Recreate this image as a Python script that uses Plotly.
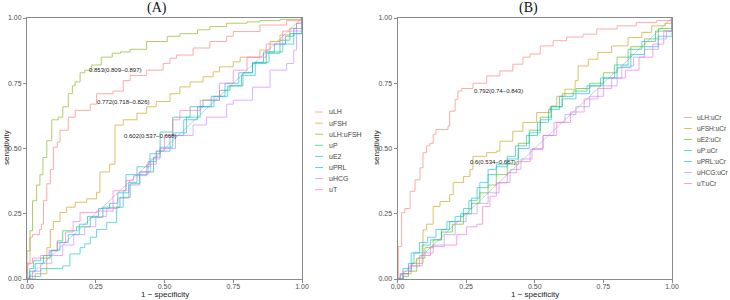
import plotly.graph_objects as go

# ---------------- Panel A data (1 - specificity, sensitivity) ----------------
A_labels = ["uLH", "uFSH", "uLH:uFSH", "uP", "uE2", "uPRL", "uHCG", "uT"]
A_colors = ["#F8766D", "#CD9600", "#7CAE00", "#00BE67", "#00BFC4", "#00A9FF", "#C77CFF", "#FF61CC"]

A_uLH_fpr = [0, 0.003, 0.011, 0.02, 0.045, 0.053, 0.06, 0.072, 0.085, 0.096, 0.11, 0.12, 0.15, 0.175, 0.23,
             0.253, 0.313, 0.35, 0.375, 0.435, 0.495, 0.52, 0.544, 0.604, 0.665, 0.726, 0.75, 0.847, 0.944, 1]
A_uLH_tpr = [0, 0.057, 0.16, 0.17, 0.19, 0.21, 0.30, 0.365, 0.42, 0.505, 0.525, 0.57, 0.62, 0.646, 0.67,
             0.71, 0.72, 0.76, 0.78, 0.80, 0.826, 0.846, 0.858, 0.885, 0.91, 0.93, 0.948, 0.973, 0.99, 1]

A_uFSH_fpr = [0, 0.03, 0.072, 0.085, 0.096, 0.12, 0.144, 0.175, 0.217, 0.253, 0.265, 0.30, 0.32, 0.35, 0.40,
              0.435, 0.47, 0.52, 0.556, 0.593, 0.64, 0.677, 0.70, 0.75, 0.775, 0.847, 0.884, 0.92, 0.956, 0.98, 1]
A_uFSH_tpr = [0, 0.02, 0.12, 0.19, 0.22, 0.255, 0.275, 0.294, 0.307, 0.332, 0.41, 0.44, 0.59, 0.61, 0.635,
              0.66, 0.68, 0.71, 0.736, 0.755, 0.775, 0.794, 0.813, 0.832, 0.85, 0.877, 0.91, 0.935, 0.96, 0.98, 1]

A_uLHuFSH_fpr = [0, 0, 0.011, 0.02, 0.035, 0.047, 0.058, 0.072, 0.09, 0.114, 0.13, 0.15, 0.165, 0.175, 0.193,
                 0.21, 0.235, 0.27, 0.31, 0.34, 0.375, 0.435, 0.51, 0.556, 0.62, 0.665, 0.726, 0.8, 0.847, 0.92, 1]
A_uLHuFSH_tpr = [0, 0.108, 0.185, 0.30, 0.36, 0.40, 0.465, 0.53, 0.61, 0.62, 0.66, 0.71, 0.74, 0.755, 0.79,
                 0.80, 0.82, 0.85, 0.865, 0.87, 0.88, 0.91, 0.93, 0.94, 0.955, 0.967, 0.98, 0.985, 0.99, 0.995, 1]

A_uP_fpr = [0, 0.01, 0.024, 0.05, 0.084, 0.11, 0.13, 0.18, 0.23, 0.276, 0.338, 0.375, 0.41, 0.46, 0.484,
            0.53, 0.593, 0.64, 0.70, 0.738, 0.785, 0.82, 0.87, 0.92, 0.956, 1]
A_uP_tpr = [0, 0.04, 0.07, 0.08, 0.108, 0.146, 0.185, 0.20, 0.236, 0.275, 0.313, 0.365, 0.41, 0.467, 0.563,
            0.62, 0.66, 0.685, 0.723, 0.74, 0.79, 0.826, 0.865, 0.915, 0.94, 1]

A_uE2_fpr = [0, 0.01, 0.05, 0.13, 0.156, 0.193, 0.21, 0.23, 0.253, 0.29, 0.326, 0.35, 0.36, 0.40, 0.447,
             0.484, 0.53, 0.58, 0.63, 0.68, 0.73, 0.78, 0.83, 0.88, 0.93, 0.97, 1]
A_uE2_tpr = [0, 0.01, 0.04, 0.05, 0.096, 0.12, 0.135, 0.16, 0.19, 0.217, 0.275, 0.338, 0.40, 0.43, 0.48,
             0.505, 0.56, 0.62, 0.66, 0.70, 0.74, 0.78, 0.83, 0.87, 0.90, 0.94, 1]

A_uPRL_fpr = [0, 0.01, 0.03, 0.06, 0.09, 0.12, 0.15, 0.19, 0.22, 0.26, 0.30, 0.33, 0.37, 0.40, 0.44, 0.47,
              0.52, 0.57, 0.62, 0.67, 0.72, 0.77, 0.82, 0.86, 0.90, 0.94, 0.97, 1]
A_uPRL_tpr = [0, 0.03, 0.06, 0.09, 0.11, 0.14, 0.17, 0.21, 0.24, 0.27, 0.29, 0.33, 0.37, 0.40, 0.45, 0.49,
              0.55, 0.61, 0.66, 0.70, 0.75, 0.79, 0.83, 0.87, 0.90, 0.93, 0.96, 1]

A_uHCG_fpr = [0, 0.02, 0.05, 0.09, 0.13, 0.17, 0.21, 0.25, 0.29, 0.33, 0.37, 0.41, 0.45, 0.484, 0.54,
              0.604, 0.653, 0.726, 0.75, 0.82, 0.884, 0.944, 0.97, 0.98, 1]
A_uHCG_tpr = [0, 0.03, 0.06, 0.09, 0.13, 0.17, 0.20, 0.24, 0.27, 0.31, 0.36, 0.41, 0.46, 0.50, 0.55,
              0.59, 0.62, 0.67, 0.685, 0.735, 0.80, 0.826, 0.877, 0.98, 1]

A_uT_fpr = [0, 0, 0.02, 0.05, 0.08, 0.11, 0.14, 0.168, 0.193, 0.253, 0.313, 0.36, 0.387, 0.435, 0.47, 0.50,
            0.53, 0.556, 0.63, 0.70, 0.75, 0.80, 0.87, 0.93, 1]
A_uT_tpr = [0, 0.06, 0.08, 0.09, 0.11, 0.14, 0.18, 0.22, 0.255, 0.26, 0.338, 0.377, 0.396, 0.44, 0.49, 0.55,
            0.61, 0.646, 0.685, 0.75, 0.80, 0.85, 0.90, 0.95, 1]

# ---------------- Panel B data ----------------
B_labels = ["uLH:uCr", "uFSH:uCr", "uE2:uCr", "uP:uCr", "uPRL:uCr", "uHCG:uCr", "uT:uCr"]
B_colors = ["#F8766D", "#C49A00", "#53B400", "#00C094", "#00B6EB", "#A58AFF", "#FB61D7"]

B_uLH_fpr = [0, 0.003, 0.015, 0.027, 0.046, 0.064, 0.082, 0.093, 0.106, 0.118, 0.13, 0.14, 0.184, 0.19, 0.21,
             0.22, 0.234, 0.275, 0.325, 0.373, 0.42, 0.457, 0.483, 0.52, 0.567, 0.616, 0.676, 0.726, 0.80,
             0.87, 0.944, 1]
B_uLH_tpr = [0, 0.124, 0.254, 0.27, 0.336, 0.38, 0.426, 0.484, 0.51, 0.52, 0.554, 0.573, 0.586, 0.643, 0.688,
             0.72, 0.73, 0.75, 0.778, 0.797, 0.823, 0.85, 0.862, 0.893, 0.913, 0.927, 0.938, 0.958, 0.97,
             0.983, 0.99, 1]

B_uFSH_fpr = [0, 0.02, 0.05, 0.093, 0.106, 0.13, 0.155, 0.19, 0.203, 0.24, 0.264, 0.275, 0.325, 0.36, 0.373,
              0.42, 0.457, 0.507, 0.556, 0.58, 0.61, 0.647, 0.658, 0.695, 0.73, 0.78, 0.84, 0.89, 0.926, 0.975, 1]
B_uFSH_tpr = [0, 0.02, 0.06, 0.188, 0.21, 0.278, 0.297, 0.323, 0.37, 0.393, 0.42, 0.47, 0.484, 0.49, 0.528,
              0.566, 0.60, 0.638, 0.663, 0.70, 0.727, 0.76, 0.816, 0.842, 0.868, 0.893, 0.925, 0.945, 0.97, 0.98, 1]

B_uE2_fpr = [0, 0.02, 0.04, 0.07, 0.10, 0.13, 0.16, 0.20, 0.24, 0.27, 0.30, 0.33, 0.36, 0.40, 0.44, 0.48,
             0.52, 0.56, 0.60, 0.65, 0.70, 0.75, 0.80, 0.85, 0.90, 0.95, 1]
B_uE2_tpr = [0, 0.01, 0.03, 0.08, 0.12, 0.15, 0.18, 0.21, 0.25, 0.29, 0.33, 0.36, 0.40, 0.44, 0.52, 0.57,
             0.62, 0.66, 0.71, 0.73, 0.75, 0.79, 0.85, 0.89, 0.92, 0.96, 1]

B_uP_fpr = [0, 0.01, 0.04, 0.06, 0.09, 0.12, 0.16, 0.19, 0.23, 0.26, 0.29, 0.33, 0.36, 0.40, 0.43, 0.47,
            0.51, 0.55, 0.59, 0.64, 0.69, 0.74, 0.79, 0.84, 0.89, 0.94, 1]
B_uP_tpr = [0, 0.02, 0.06, 0.10, 0.13, 0.15, 0.19, 0.22, 0.25, 0.30, 0.35, 0.40, 0.43, 0.47, 0.51, 0.55,
            0.60, 0.65, 0.70, 0.72, 0.74, 0.77, 0.82, 0.88, 0.91, 0.95, 1]

B_uPRL_fpr = [0, 0.02, 0.05, 0.08, 0.11, 0.14, 0.18, 0.21, 0.24, 0.27, 0.30, 0.33, 0.36, 0.40, 0.44, 0.48,
              0.52, 0.56, 0.60, 0.65, 0.70, 0.75, 0.80, 0.85, 0.90, 0.95, 1]
B_uPRL_tpr = [0, 0.04, 0.10, 0.14, 0.16, 0.19, 0.22, 0.24, 0.27, 0.31, 0.37, 0.42, 0.44, 0.46, 0.50, 0.56,
              0.61, 0.66, 0.69, 0.71, 0.74, 0.77, 0.81, 0.86, 0.89, 0.93, 1]

B_uHCG_fpr = [0, 0.02, 0.05, 0.09, 0.13, 0.17, 0.21, 0.25, 0.29, 0.33, 0.37, 0.41, 0.45, 0.49, 0.53, 0.57,
              0.61, 0.65, 0.70, 0.75, 0.80, 0.817, 0.86, 0.90, 0.95, 0.98, 1]
B_uHCG_tpr = [0, 0.03, 0.05, 0.10, 0.13, 0.17, 0.22, 0.25, 0.29, 0.33, 0.37, 0.42, 0.46, 0.50, 0.55, 0.60,
              0.63, 0.66, 0.70, 0.74, 0.77, 0.816, 0.85, 0.88, 0.92, 0.95, 1]

B_uT_fpr = [0, 0.01, 0.04, 0.08, 0.12, 0.17, 0.216, 0.252, 0.289, 0.31, 0.337, 0.36, 0.40, 0.434, 0.483,
            0.53, 0.58, 0.63, 0.68, 0.73, 0.78, 0.83, 0.88, 0.93, 0.97, 1]
B_uT_tpr = [0, 0.02, 0.05, 0.09, 0.124, 0.13, 0.17, 0.20, 0.21, 0.278, 0.317, 0.368, 0.407, 0.45, 0.496,
            0.55, 0.60, 0.64, 0.69, 0.73, 0.77, 0.80, 0.85, 0.90, 0.95, 1]

A_series = [(A_uLH_fpr, A_uLH_tpr), (A_uFSH_fpr, A_uFSH_tpr), (A_uLHuFSH_fpr, A_uLHuFSH_tpr),
            (A_uP_fpr, A_uP_tpr), (A_uE2_fpr, A_uE2_tpr), (A_uPRL_fpr, A_uPRL_tpr),
            (A_uHCG_fpr, A_uHCG_tpr), (A_uT_fpr, A_uT_tpr)]
B_series = [(B_uLH_fpr, B_uLH_tpr), (B_uFSH_fpr, B_uFSH_tpr), (B_uE2_fpr, B_uE2_tpr),
            (B_uP_fpr, B_uP_tpr), (B_uPRL_fpr, B_uPRL_tpr), (B_uHCG_fpr, B_uHCG_tpr), (B_uT_fpr, B_uT_tpr)]

A_auc_text = ["0.853(0.809\u22120.897)", "0.772(0.718\u22120.826)", "0.602(0.537\u22120.668)"]
A_auc_pos = [(0.32, 0.80), (0.35, 0.678), (0.449, 0.547)]
B_auc_text = ["0.792(0.74\u22120.843)", "0.6(0.534\u22120.667)"]
B_auc_pos = [(0.367, 0.72), (0.349, 0.447)]

ticks = [0, 0.25, 0.5, 0.75, 1.0]

W, H = 730, 300
FONT = "Liberation Sans"
AXC = "#8a8a8a"
ALPHA = 0.6

fig = go.Figure()

fig.add_trace(go.Scatter(x=[0, 1], y=[0, 1], mode="lines", line=dict(color="#cfcfcf", width=1),
                         xaxis="x", yaxis="y", showlegend=False, hoverinfo="skip"))
fig.add_trace(go.Scatter(x=[0, 1], y=[0, 1], mode="lines", line=dict(color="#cfcfcf", width=1),
                         xaxis="x2", yaxis="y2", showlegend=False, hoverinfo="skip"))

for (fx, ty), col, lab in zip(A_series, A_colors, A_labels):
    fig.add_trace(go.Scatter(x=fx, y=ty, mode="lines", line=dict(color=col, width=1, shape="hv"),
                             opacity=ALPHA, name=lab, xaxis="x", yaxis="y", showlegend=False))
for (fx, ty), col, lab in zip(B_series, B_colors, B_labels):
    fig.add_trace(go.Scatter(x=fx, y=ty, mode="lines", line=dict(color=col, width=1, shape="hv"),
                             opacity=ALPHA, name=lab, xaxis="x2", yaxis="y2", showlegend=False))

axis_common = dict(range=[0, 1], tickvals=ticks, tickformat=".2f", showgrid=False, zeroline=False,
                   showline=True, mirror=True, linecolor=AXC, linewidth=1, ticks="outside",
                   ticklen=3, tickcolor=AXC, tickfont=dict(family=FONT, size=7, color="#4d4d4d"),
                   automargin=False)

yd = [1 - 279 / H, 1 - 18 / H]
fig.update_layout(
    width=W, height=H, margin=dict(l=0, r=0, t=0, b=0),
    paper_bgcolor="white", plot_bgcolor="white", showlegend=False,
    xaxis=dict(domain=[27 / W, 302 / W], anchor="y", ticklabelstandoff=-2, **axis_common),
    yaxis=dict(domain=yd, anchor="x", **axis_common),
    xaxis2=dict(domain=[397.5 / W, 672 / W], anchor="y2", ticklabelstandoff=-2, **axis_common),
    yaxis2=dict(domain=yd, anchor="x2", **axis_common),
)

ann = []
shapes = []
# titles
ann.append(dict(text="(A)", x=157 / W, y=1 - 8 / H, xref="paper", yref="paper", showarrow=False,
                font=dict(family="Liberation Serif", size=14, color="#111"), xanchor="center", yanchor="middle"))
ann.append(dict(text="(B)", x=528 / W, y=1 - 8 / H, xref="paper", yref="paper", showarrow=False,
                font=dict(family="Liberation Serif", size=14, color="#111"), xanchor="center", yanchor="middle"))
# axis titles
for cx, sx in [(165, 6), (535, 376)]:
    ann.append(dict(text="1 \u2212 specificity", x=cx / W, y=1 - 294 / H, xref="paper", yref="paper",
                    showarrow=False, font=dict(family=FONT, size=8, color="#222"),
                    xanchor="center", yanchor="middle"))
    ann.append(dict(text="sensitivity", x=sx / W, y=1 - 148 / H, xref="paper", yref="paper",
                    showarrow=False, textangle=-90, font=dict(family=FONT, size=8, color="#222"),
                    xanchor="center", yanchor="middle"))
# AUC labels
for t, (px, py) in zip(A_auc_text, A_auc_pos):
    ann.append(dict(text=t, x=px, y=py, xref="x", yref="y", showarrow=False,
                    font=dict(family=FONT, size=6, color="#222"), xanchor="center", yanchor="middle"))
for t, (px, py) in zip(B_auc_text, B_auc_pos):
    ann.append(dict(text=t, x=px, y=py, xref="x2", yref="y2", showarrow=False,
                    font=dict(family=FONT, size=6, color="#222"), xanchor="center", yanchor="middle"))

# legends (manual)
def legend(labels, colors, key_x0, text_x, y0, dy, fs):
    for i, (lab, col) in enumerate(zip(labels, colors)):
        yy = 1 - (y0 + i * dy) / H
        shapes.append(dict(type="line", xref="paper", yref="paper", x0=key_x0 / W, x1=(key_x0 + 8) / W,
                           y0=yy, y1=yy, line=dict(color=col, width=1), opacity=ALPHA))
        ann.append(dict(text=lab, x=text_x / W, y=yy, xref="paper", yref="paper", showarrow=False,
                        font=dict(family=FONT, size=fs, color="#444"), xanchor="left", yanchor="middle"))

legend(A_labels, A_colors, 315, 327, 112, 11.1, 7)
legend(B_labels, B_colors, 684, 695, 117.5, 11, 6.6)

fig.update_layout(annotations=ann, shapes=shapes)
fig.write_html("out.html", config={"displayModeBar": False},
               post_script="document.body.style.margin='0';document.body.style.overflow='hidden';")
